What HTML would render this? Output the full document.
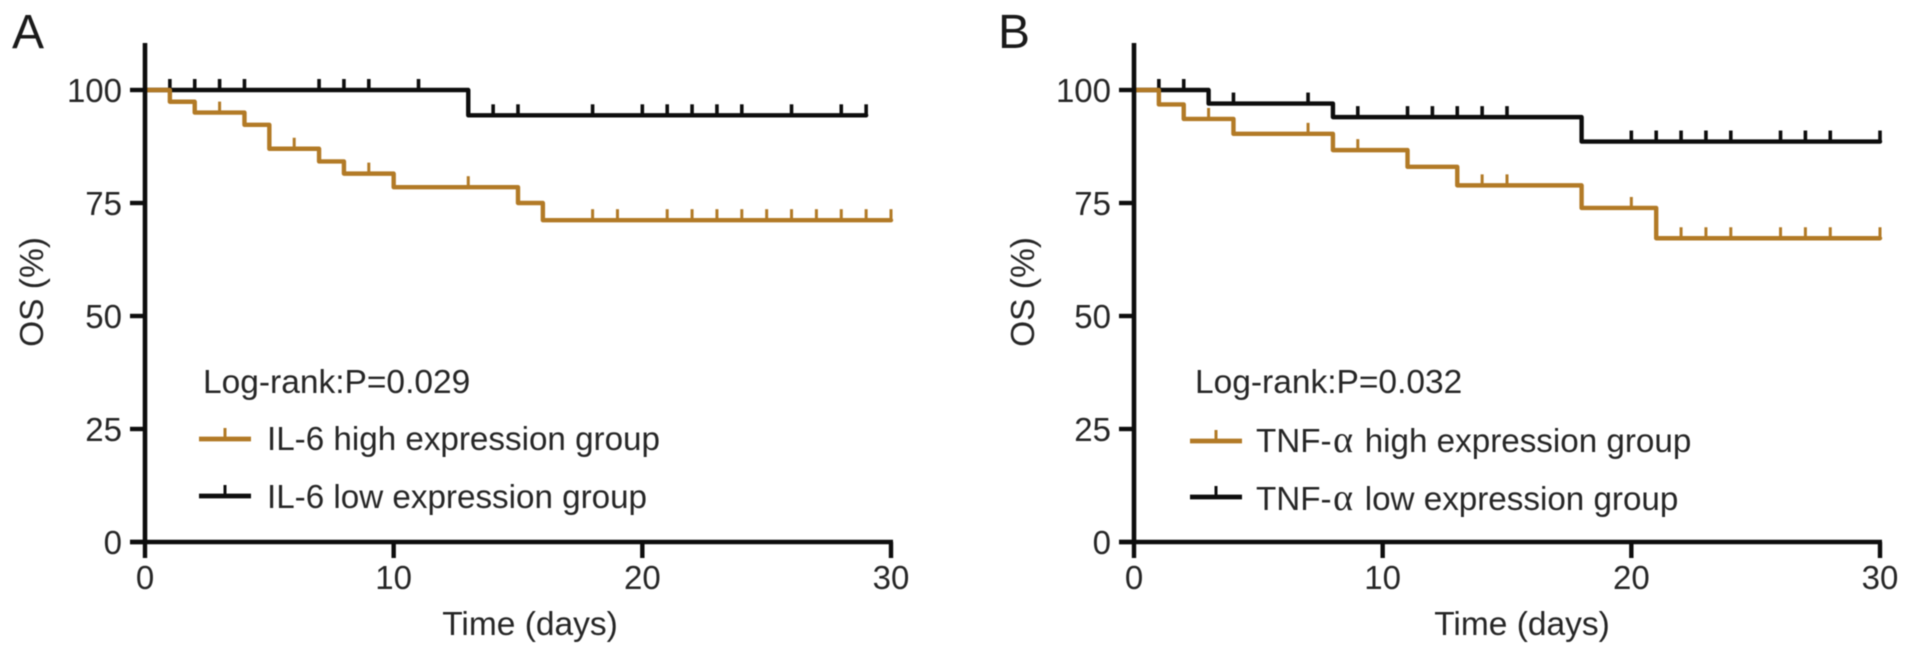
<!DOCTYPE html>
<html lang="en">
<head>
<meta charset="utf-8">
<title>Kaplan-Meier OS curves</title>
<style>
html,body{margin:0;padding:0;background:#fff;width:1913px;height:658px;overflow:hidden}
svg{display:block;font-family:"Liberation Sans",sans-serif;fill:#262626}
.alpha{font-family:"Liberation Serif",serif;font-size:38px;letter-spacing:2.5px}
</style>
</head>
<body>
<svg id="figure" width="1913" height="658" viewBox="0 0 1913 658" xmlns="http://www.w3.org/2000/svg">
  <g id="soft" style="filter:blur(0.5px)">
    <text x="12" y="48" font-size="48" fill="#1a1a1a">A</text>
    <text x="998" y="48" font-size="48" fill="#1a1a1a">B</text>

    <g id="panelA"></g>
    <g id="panelB"></g>

    <text x="530" y="635" font-size="33.5" text-anchor="middle">Time (days)</text>
    <text x="1522" y="635" font-size="33.5" text-anchor="middle">Time (days)</text>
    <text transform="translate(43,292) rotate(-90)" font-size="33.5" text-anchor="middle">OS (%)</text>
    <text transform="translate(1034,292) rotate(-90)" font-size="33.5" text-anchor="middle">OS (%)</text>

    <text x="203" y="393" font-size="33.5">Log-rank:P=0.029</text>
    <text x="267" y="450" font-size="33.2">IL-6 high expression group</text>
    <text x="267" y="508" font-size="33.2">IL-6 low expression group</text>

    <text x="1195" y="393" font-size="33.5">Log-rank:P=0.032</text>
    <text x="1256" y="452" font-size="33.2">TNF-<tspan class="alpha" dx="1.5">α</tspan> high expression group</text>
    <text x="1256" y="510" font-size="33.2">TNF-<tspan class="alpha" dx="1.5">α</tspan> low expression group</text>

    <g id="legends"></g>
  </g>
</svg>
<script>
// Axis tick labels
const xTickValues = [0, 10, 20, 30];
const yTickValues = [0, 25, 50, 75, 100];

// Panel A: IL-6
const aHighTimes = [0, 1, 2, 4, 5, 7, 8, 10, 15, 16, 30];
const aHighSurvival = [100, 97.4, 95, 92.3, 87, 84.2, 81.5, 78.5, 75, 71.2, 71.2];
const aHighCensored = [3, 6, 9, 13, 18, 19, 21, 22, 23, 24, 25, 26, 27, 28, 29, 30];
const aLowTimes = [0, 13, 29];
const aLowSurvival = [100, 94.4, 94.4];
const aLowCensored = [1, 2, 3, 4, 7, 8, 9, 11, 14, 15, 18, 20, 21, 22, 23, 24, 26, 28, 29];

// Panel B: TNF-alpha
const bHighTimes = [0, 1, 2, 4, 8, 11, 13, 18, 21, 30];
const bHighSurvival = [100, 96.8, 93.6, 90.3, 86.7, 83, 78.9, 73.9, 67.2, 67.2];
const bHighCensored = [3, 7, 9, 14, 15, 20, 22, 23, 24, 26, 27, 28, 30];
const bLowTimes = [0, 3, 8, 18, 30];
const bLowSurvival = [100, 97, 94, 88.6, 88.6];
const bLowCensored = [1, 2, 4, 7, 9, 11, 12, 13, 14, 15, 20, 21, 22, 23, 24, 26, 27, 28, 30];

const NS = 'http://www.w3.org/2000/svg';
const ORANGE = '#b27a26';
const BLACK = '#0d0d0d';
const yAxis = v => 542 - (v / 100) * 452;

function make(parent, tag, attrs) {
  const el = document.createElementNS(NS, tag);
  for (const k in attrs) el.setAttribute(k, attrs[k]);
  parent.appendChild(el);
  return el;
}

function survivalAt(times, values, t) {
  let s = values[0];
  for (let i = 0; i < times.length; i++) if (times[i] <= t) s = values[i];
  return s;
}

function drawSeries(parent, xAxis, times, values, censored, color, name, tickWidth) {
  let d = 'M' + xAxis(times[0]) + ' ' + yAxis(values[0]);
  for (let i = 1; i < times.length; i++) {
    d += ' H' + xAxis(times[i]) + ' V' + yAxis(values[i]);
  }
  const line = make(parent, 'path', {d: d, fill: 'none', stroke: color, 'stroke-width': 4.4, 'stroke-linejoin': 'round', 'stroke-linecap': 'round'});
  
  
  censored.forEach(t => {
    const y = yAxis(survivalAt(times, values, t));
    const mark = make(parent, 'line', {x1: xAxis(t), x2: xAxis(t), y1: y, y2: y - 11, stroke: color, 'stroke-width': tickWidth});
    
    
  });
}

function drawAxes(parent, xAxis, labelRight) {
  const yLine = make(parent, 'line', {x1: xAxis(0), x2: xAxis(0), y1: 43, y2: 544, stroke: '#0d0d0d', 'stroke-width': 4.6});
  
  
  const xLine = make(parent, 'line', {x1: xAxis(0) - 15, x2: xAxis(30) + 2, y1: yAxis(0), y2: yAxis(0), stroke: '#0d0d0d', 'stroke-width': 4.6});
  
  
  yTickValues.forEach(v => {
    const tick = make(parent, 'line', {x1: xAxis(0) - 15, x2: xAxis(0), y1: yAxis(v), y2: yAxis(v), stroke: '#0d0d0d', 'stroke-width': 4.4});
    
    
    const label = make(parent, 'text', {x: labelRight, y: yAxis(v) + 12, 'font-size': 33, 'text-anchor': 'end'});
    
    
    label.textContent = v;
  });
  xTickValues.forEach(v => {
    const tick = make(parent, 'line', {x1: xAxis(v), x2: xAxis(v), y1: yAxis(0), y2: yAxis(0) + 16, stroke: '#0d0d0d', 'stroke-width': 4.4});
    
    
    const label = make(parent, 'text', {x: xAxis(v), y: yAxis(0) + 47, 'font-size': 33, 'text-anchor': 'middle'});
    
    
    label.textContent = v;
  });
}

function drawSwatch(parent, x, y, color, name) {
  const g = make(parent, 'g', {});
  
  
  make(g, 'line', {x1: x, x2: x + 52, y1: y, y2: y, stroke: color, 'stroke-width': 4.8});
  make(g, 'line', {x1: x + 26, x2: x + 26, y1: y, y2: y - 11, stroke: color, 'stroke-width': 3});
}

const xAxisA = t => 145 + (t / 30) * 746;
const xAxisB = t => 1134 + (t / 30) * 746;
const panelA = document.getElementById('panelA');
const panelB = document.getElementById('panelB');
const legends = document.getElementById('legends');

drawSeries(panelA, xAxisA, aLowTimes, aLowSurvival, aLowCensored, BLACK, 'il6-low', 3.6);
drawSeries(panelA, xAxisA, aHighTimes, aHighSurvival, aHighCensored, ORANGE, 'il6-high', 3);
drawAxes(panelA, xAxisA, 122);

drawSeries(panelB, xAxisB, bLowTimes, bLowSurvival, bLowCensored, BLACK, 'tnf-low', 3.6);
drawSeries(panelB, xAxisB, bHighTimes, bHighSurvival, bHighCensored, ORANGE, 'tnf-high', 3);
drawAxes(panelB, xAxisB, 1111);

drawSwatch(legends, 199, 439, ORANGE, 'panel-a-legend-high-swatch');
drawSwatch(legends, 199, 496, BLACK, 'panel-a-legend-low-swatch');
drawSwatch(legends, 1190, 441, ORANGE, 'panel-b-legend-high-swatch');
drawSwatch(legends, 1190, 497, BLACK, 'panel-b-legend-low-swatch');
</script>
</body>
</html>
